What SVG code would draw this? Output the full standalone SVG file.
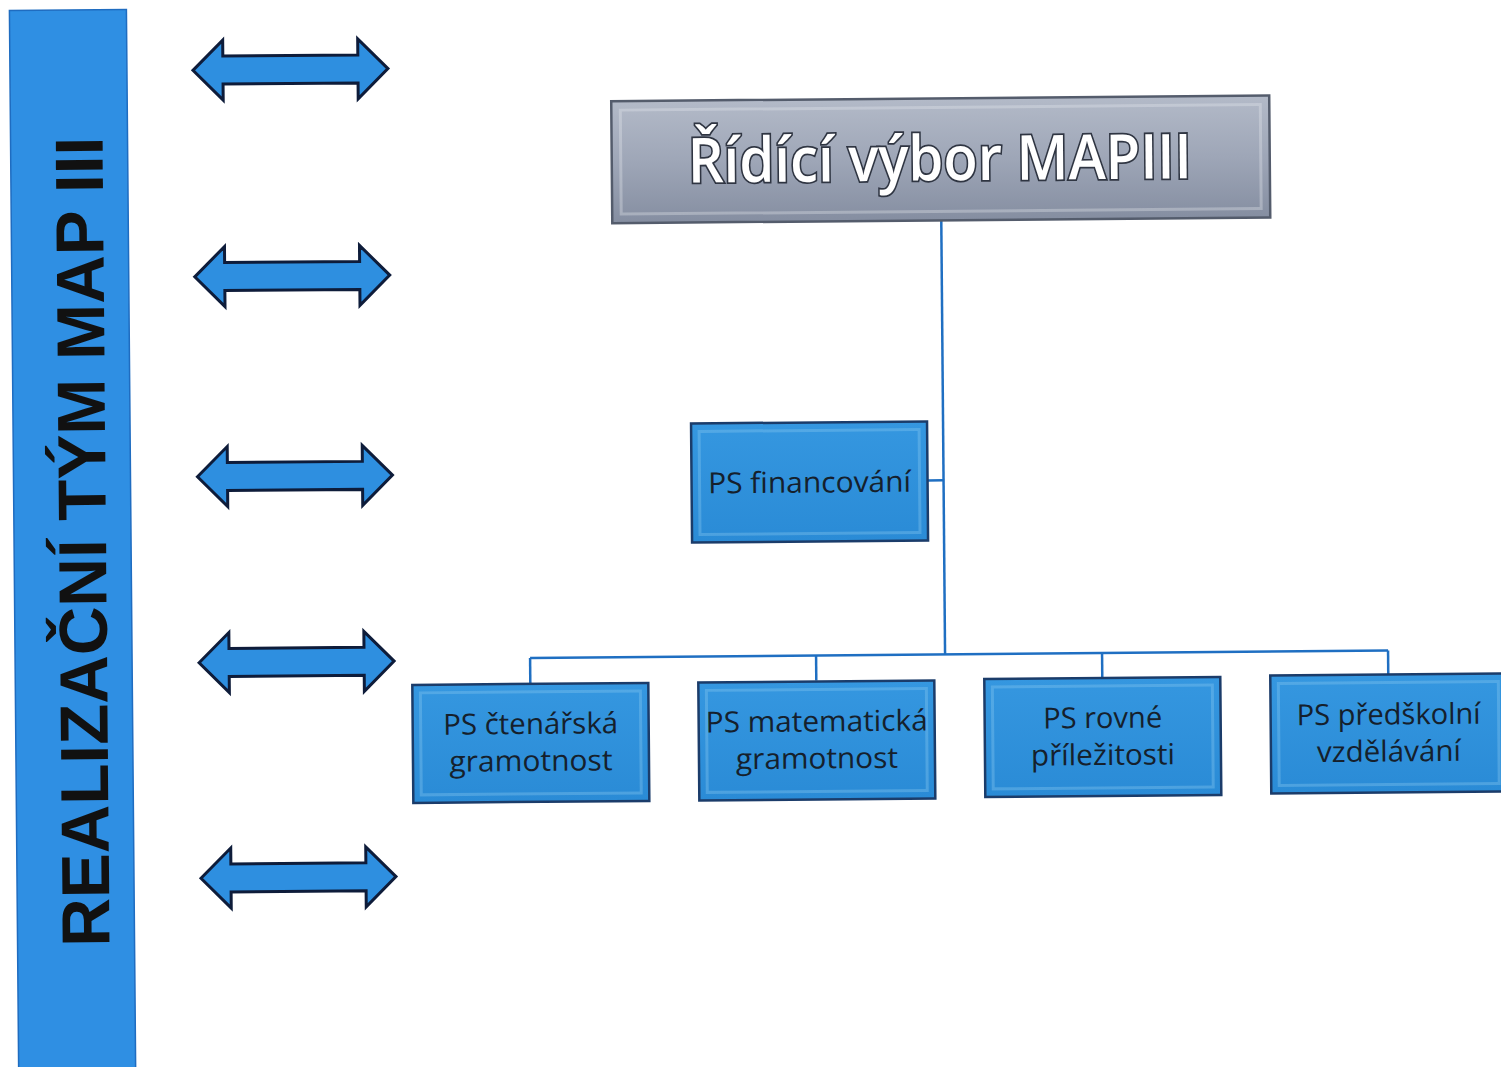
<svg xmlns="http://www.w3.org/2000/svg" width="1501" height="1067" viewBox="0 0 1501 1067">
<style>
.conn{stroke:#1f6fc2;stroke-width:2.5;fill:none}
.box{fill:url(#blueGrad);stroke:#1b3c6a;stroke-width:2.5}
.bevel{fill:none;stroke:#8ccaf2;stroke-width:3;opacity:0.35}
.lbl{font-family:"Open Sans","Noto Sans","Liberation Sans",sans-serif;font-size:29px;fill:#15202c;text-anchor:middle}
.arrow{fill:#2e8fe0;stroke:#0e1c3a;stroke-width:3;stroke-linejoin:miter}
</style>
<defs>
<linearGradient id="blueGrad" x1="0" y1="0" x2="0" y2="1">
<stop offset="0" stop-color="#3597e0"/>
<stop offset="1" stop-color="#2a8bd6"/>
</linearGradient>
<linearGradient id="grayGrad" x1="0" y1="0" x2="0" y2="1">
<stop offset="0" stop-color="#b3bac8"/>
<stop offset="0.5" stop-color="#9ea6b7"/>
<stop offset="1" stop-color="#858ea1"/>
</linearGradient>
<path id="dblArrow" d="M0,0 L30,-30 L30,-14 L165,-14 L165,-30 L195,0 L165,30 L165,14 L30,14 L30,30 Z"/>
</defs>
<rect x="0" y="0" width="1501" height="1067" fill="#ffffff"/>
<g transform="rotate(-0.5 750 533)">
<g id="realizacni-tym">
<rect x="14" y="4" width="117" height="1100" fill="#2f8fe3" stroke="#1f6cc0" stroke-width="1.5"/>
<text transform="translate(106,536) rotate(-90)" font-family="'Liberation Sans',Arial,sans-serif" font-weight="bold" font-size="68" fill="#111111" text-anchor="middle" textLength="810" lengthAdjust="spacingAndGlyphs">REALIZAČNÍ TÝM MAP III</text>
</g>
<g id="arrows">
<use href="#dblArrow" class="arrow" transform="translate(197,65.5)"/>
<use href="#dblArrow" class="arrow" transform="translate(197,272)"/>
<use href="#dblArrow" class="arrow" transform="translate(198,472)"/>
<use href="#dblArrow" class="arrow" transform="translate(198,658)"/>
<use href="#dblArrow" class="arrow" transform="translate(198,873.5)"/>
</g>
<g id="connectors">
<line class="conn" x1="944" y1="222" x2="944" y2="656"/>
<line class="conn" x1="928" y1="482" x2="944" y2="482"/>
<line class="conn" x1="529" y1="656" x2="1387" y2="656"/>
<line class="conn" x1="529" y1="656" x2="529" y2="681"/>
<line class="conn" x1="815" y1="656" x2="815" y2="681"/>
<line class="conn" x1="1101" y1="656" x2="1101" y2="681"/>
<line class="conn" x1="1387" y1="656" x2="1387" y2="681"/>
</g>
<g id="ridici-vybor">
<rect x="615" y="100" width="658" height="122" fill="url(#grayGrad)" stroke="#545c6c" stroke-width="2.5"/>
<rect x="624" y="109" width="640" height="104" fill="none" stroke="#e6e9ef" stroke-width="3" opacity="0.35"/>
<text x="943" y="182" font-family="'Open Sans','Noto Sans',sans-serif" font-weight="600" font-size="62" fill="#ffffff" stroke="#2f3542" stroke-width="3.5" paint-order="stroke" text-anchor="middle" textLength="504" lengthAdjust="spacingAndGlyphs">Řídící výbor MAPIII</text>
</g>
<g id="ps-financovani">
<rect class="box" x="692" y="423" width="236" height="119"/>
<rect class="bevel" x="700" y="431" width="220" height="103"/>
<text class="lbl" x="810" y="493" textLength="203" lengthAdjust="spacingAndGlyphs">PS financování</text>
</g>
<g id="ps-ctenarska">
<rect class="box" x="411" y="682" width="236" height="118"/>
<rect class="bevel" x="419" y="690" width="220" height="102"/>
<text class="lbl" x="529" y="732" textLength="175" lengthAdjust="spacingAndGlyphs">PS čtenářská</text>
<text class="lbl" x="529" y="769" textLength="163" lengthAdjust="spacingAndGlyphs">gramotnost</text>
</g>
<g id="ps-matematicka">
<rect class="box" x="697" y="682" width="236" height="118"/>
<rect class="bevel" x="705" y="690" width="220" height="102"/>
<text class="lbl" x="815" y="732" textLength="222" lengthAdjust="spacingAndGlyphs">PS matematická</text>
<text class="lbl" x="815" y="769" textLength="162" lengthAdjust="spacingAndGlyphs">gramotnost</text>
</g>
<g id="ps-rovne">
<rect class="box" x="983" y="681" width="236" height="118"/>
<rect class="bevel" x="991" y="689" width="220" height="102"/>
<text class="lbl" x="1101" y="731" textLength="119" lengthAdjust="spacingAndGlyphs">PS rovné</text>
<text class="lbl" x="1101" y="768" textLength="144" lengthAdjust="spacingAndGlyphs">příležitosti</text>
</g>
<g id="ps-predskolni">
<rect class="box" x="1269" y="680" width="236" height="118"/>
<rect class="bevel" x="1277" y="688" width="220" height="102"/>
<text class="lbl" x="1387" y="730" textLength="184" lengthAdjust="spacingAndGlyphs">PS předškolní</text>
<text class="lbl" x="1387" y="767" textLength="144" lengthAdjust="spacingAndGlyphs">vzdělávání</text>
</g>
</g>
</svg>
